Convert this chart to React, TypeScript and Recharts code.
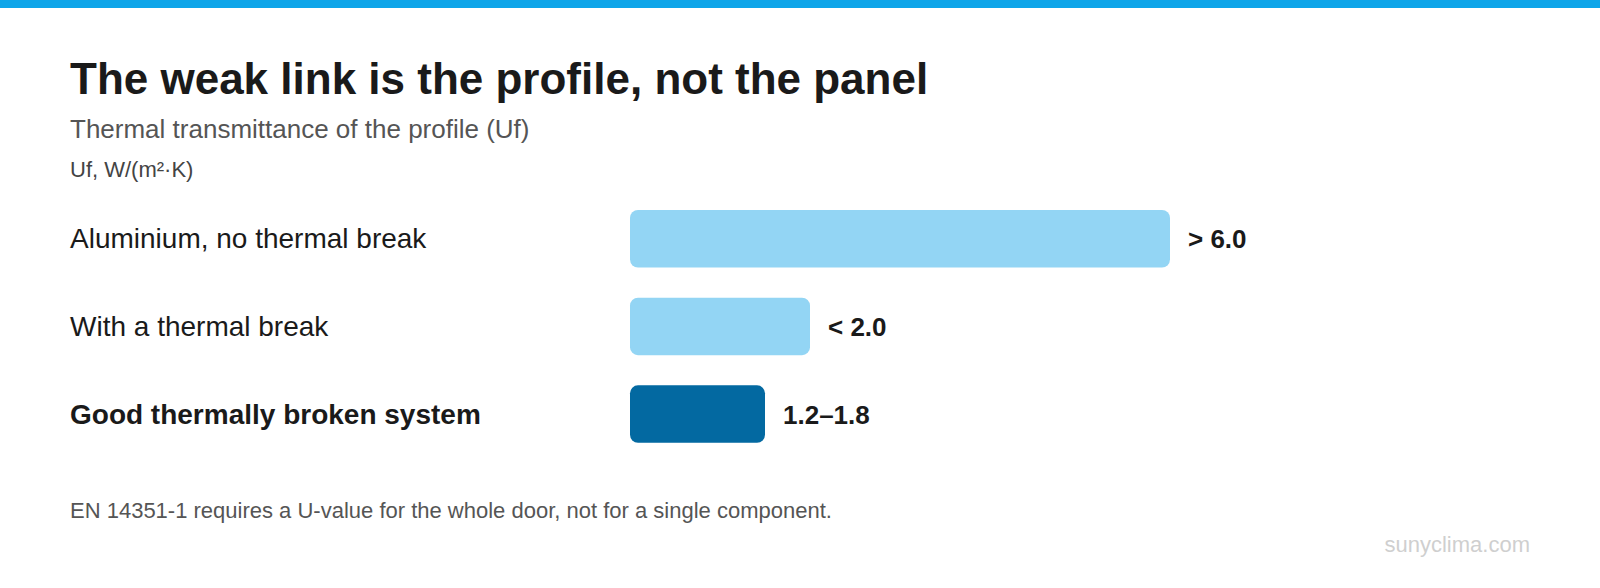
import React from "react";
import { BarChart, Bar, XAxis, YAxis, Cell, LabelList } from "recharts";

const categories = ["Aluminium, no thermal break", "With a thermal break", "Good thermally broken system"];
const values = [6.0, 2.0, 1.5];
const valueLabels = ["> 6.0", "< 2.0", "1.2–1.8"];
const barColors = ["#93d5f4", "#93d5f4", "#0369a1"];
const boldCategory = [false, false, true];

const data = categories.map((c, i) => ({ name: c, value: values[i], label: valueLabels[i] }));

const FONT = "'Liberation Sans', Arial, Helvetica, sans-serif";

const CategoryTick = (props: any) => {
  const { y, payload, index } = props;
  const bold = boldCategory[index];
  return (
    <text x={70} y={y} dy={9.5} textAnchor="start" fontFamily={FONT} fontSize={28} fontWeight={bold ? 700 : 400} fill="#1a1a1a">
      {payload.value}
    </text>
  );
};

const ValueLabel = (props: any) => {
  const { x, y, width, height, index } = props;
  return (
    <text x={x + width + 18} y={y + height / 2} dy={9.5} textAnchor="start" fontFamily={FONT} fontSize={26} fontWeight={700} fill="#1a1a1a">
      {valueLabels[index]}
    </text>
  );
};

export default function App() {
  return (
    <div style={{ position: "absolute", left: 0, top: 0, width: 1600, height: 588, background: "#fff", overflow: "hidden" }}>
      <div style={{ position: "absolute", left: 0, top: 0 }}>
        <BarChart width={1600} height={588} data={data} layout="vertical" margin={{ top: 195, right: 250, bottom: 130, left: 70 }}>
          <XAxis type="number" domain={[0, 8]} hide />
          <YAxis type="category" dataKey="name" width={560} axisLine={false} tickLine={false} tick={<CategoryTick />} interval={0} />
          <Bar dataKey="value" barSize={57.5} radius={8} isAnimationActive={false}>
            {data.map((d, i) => (
              <Cell key={i} fill={barColors[i]} />
            ))}
            <LabelList dataKey="label" content={<ValueLabel />} />
          </Bar>
        </BarChart>
      </div>
      <svg width={1600} height={588} style={{ position: "absolute", left: 0, top: 0, pointerEvents: "none" }} fontFamily={FONT}>
        <rect x={0} y={0} width={1600} height={8} fill="#0ea5e9" />
        <text x={70} y={93.5} fontSize={44} fontWeight={700} fill="#1a1a1a">The weak link is the profile, not the panel</text>
        <text x={70} y={137.5} fontSize={26} fill="#555555">Thermal transmittance of the profile (Uf)</text>
        <text x={70} y={177.3} fontSize={22} fill="#444444">Uf, W/(m²·K)</text>
        <text x={70} y={517.7} fontSize={22} fill="#555555">EN 14351-1 requires a U-value for the whole door, not for a single component.</text>
        <text x={1530} y={552.3} fontSize={22} textAnchor="end" fill="#cfcfcf">sunyclima.com</text>
      </svg>
    </div>
  );
}
